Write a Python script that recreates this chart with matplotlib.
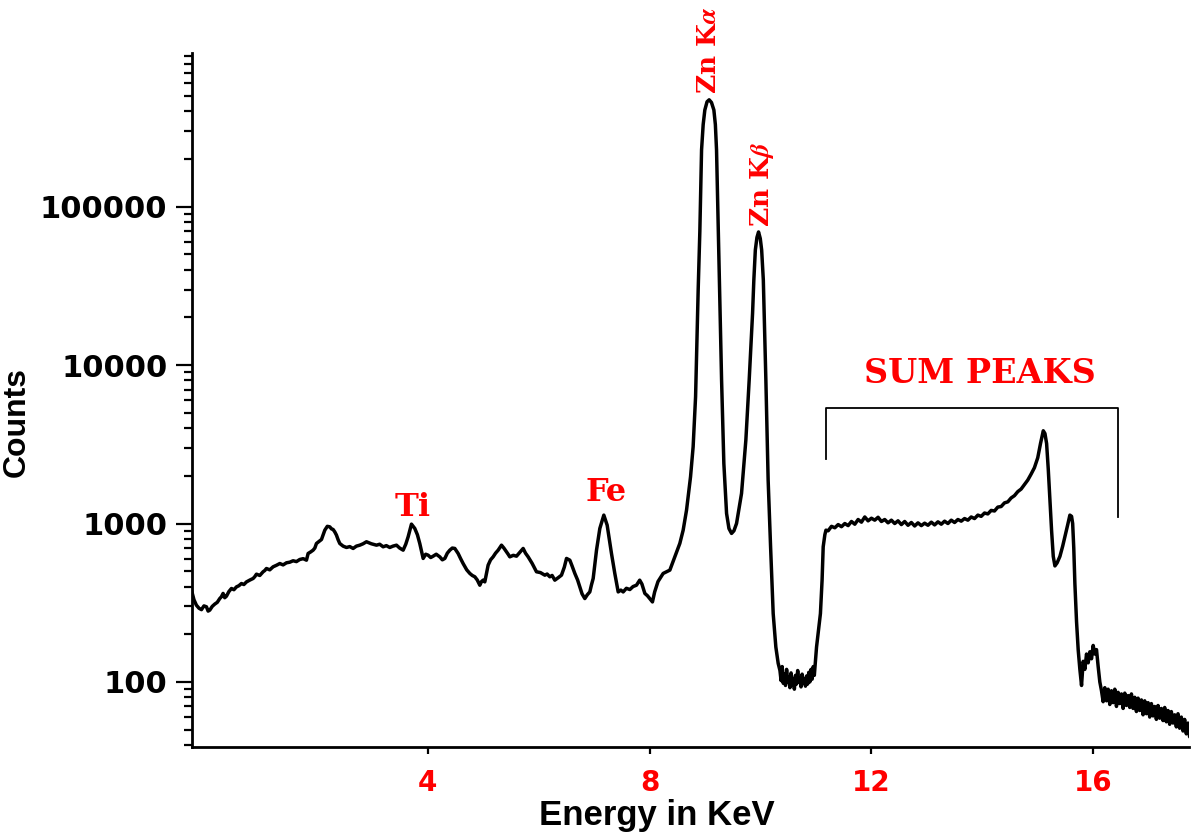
import numpy as np
import matplotlib.pyplot as plt
from matplotlib.ticker import FixedLocator, LogLocator, NullFormatter, NullLocator, FuncFormatter

plt.rcParams['font.family'] = ['DejaVu Sans']
plt.rcParams['font.weight'] = 'bold'
plt.rcParams['mathtext.fontset'] = 'stix'

# spectrum (energy in keV, counts)
energy_low = [-0.266, -0.22, -0.176, -0.13, -0.085, -0.04, 0.005, 0.035, 0.065, 0.11,
              0.155, 0.20, 0.245, 0.275, 0.305, 0.335, 0.366, 0.41, 0.456, 0.50,
              0.546, 0.59, 0.636, 0.68, 0.727, 0.79, 0.847, 0.877, 0.907, 0.967,
              1.027, 1.057, 1.087, 1.147, 1.207, 1.268, 1.328, 1.388, 1.448, 1.508,
              1.568, 1.628, 1.689, 1.75, 1.809, 1.839, 1.88, 1.929, 1.96, 1.989,
              2.035, 2.080, 2.110, 2.140, 2.185, 2.230, 2.26, 2.290, 2.32, 2.350,
              2.38, 2.410, 2.47, 2.531, 2.59, 2.651, 2.71, 2.771, 2.83, 2.891,
              2.98, 3.072, 3.13, 3.192, 3.25, 3.312, 3.37, 3.433, 3.49, 3.553,
              3.60, 3.643, 3.703, 3.763, 3.81, 3.853, 3.914, 3.96, 4.004, 4.05,
              4.094, 4.15, 4.214, 4.26, 4.305, 4.35, 4.395, 4.44, 4.485, 4.545,
              4.59, 4.635, 4.70, 4.756, 4.80, 4.846, 4.89, 4.936, 4.966, 4.996,
              5.026, 5.086, 5.13, 5.176, 5.22, 5.267, 5.327, 5.37, 5.417, 5.447,
              5.477, 5.54, 5.598, 5.66, 5.718, 5.76, 5.808, 5.88, 5.958, 6.03,
              6.109, 6.15, 6.199, 6.24, 6.289, 6.35, 6.409, 6.46, 6.500, 6.560,
              6.60, 6.650, 6.70, 6.740, 6.78, 6.830, 6.875, 6.920, 6.95, 6.981,
              7.041, 7.101, 7.173, 7.233, 7.27, 7.311, 7.371, 7.432, 7.48, 7.522,
              7.58, 7.642, 7.70, 7.762, 7.82, 7.86, 7.913, 7.96, 8.05]
counts_low = [380, 330, 305, 292, 286, 302, 298, 280, 284, 300,
              310, 318, 336, 345, 362, 340, 348, 372, 389, 382,
              398, 405, 418, 412, 428, 440, 450, 462, 479, 470,
              496, 505, 520, 510, 533, 545, 559, 548, 565, 570,
              582, 575, 593, 600, 587, 647, 660, 679, 700, 748,
              770, 793, 850, 908, 960, 953, 925, 917, 885, 845,
              790, 748, 720, 706, 715, 696, 720, 730, 745, 767,
              745, 730, 740, 713, 725, 706, 720, 730, 700, 679,
              740, 824, 991, 931, 850, 748, 602, 640, 631, 610,
              622, 640, 616, 590, 602, 650, 679, 700, 696, 647,
              600, 559, 510, 484, 470, 461, 440, 408, 430, 439,
              428, 546, 590, 616, 650, 679, 730, 700, 663, 640,
              616, 630, 622, 660, 696, 650, 616, 560, 496, 490,
              472, 480, 461, 470, 439, 455, 472, 530, 602, 587,
              540, 484, 440, 398, 360, 336, 355, 370, 410, 450,
              679, 931, 1130, 977, 800, 647, 484, 370, 380, 370,
              390, 383, 400, 408, 439, 415, 362, 350, 320]

energy_zn = [8.09, 8.15, 8.243, 8.364, 8.454, 8.544, 8.604, 8.665, 8.737, 8.784,
             8.828, 8.85, 8.875, 8.905, 8.936, 8.965, 8.995, 9.035, 9.073, 9.115,
             9.158, 9.185, 9.206, 9.235, 9.26, 9.297, 9.338, 9.387, 9.43, 9.477,
             9.52, 9.567, 9.657, 9.735, 9.795, 9.856, 9.879, 9.906, 9.935, 9.964,
             9.995, 10.02, 10.05, 10.096, 10.137, 10.181, 10.228, 10.276, 10.318]
counts_zn = [370, 430, 484, 508, 616, 749, 908, 1216, 1972, 3052,
             6313, 13000, 30000, 70000, 228600, 330000, 408000, 460000, 473000, 455000,
             408000, 330000, 228600, 80000, 34500, 8050, 2398, 1158, 930, 866,
             900, 1001, 1549, 3365, 8050, 21240, 34490, 53300, 64000, 69300,
             63000, 53300, 34490, 8050, 1880, 713, 270, 166, 131]

energy_gap = [10.35, 10.37, 10.39, 10.41, 10.43, 10.45, 10.47, 10.49, 10.51, 10.53,
              10.55, 10.57, 10.59, 10.61, 10.63, 10.65, 10.67, 10.69, 10.71, 10.73,
              10.75, 10.77, 10.79, 10.81, 10.83, 10.85, 10.87, 10.89, 10.91, 10.93,
              10.95, 10.97, 10.99]
counts_gap = [118, 102, 125, 98, 112, 95, 120, 100, 108, 92,
              114, 96, 105, 90, 110, 97, 118, 100, 106, 93,
              112, 98, 104, 94, 109, 97, 115, 100, 120, 104,
              125, 110, 135]

energy_sum = [11.01, 11.08, 11.11, 11.13, 11.16, 11.18, 11.22, 11.28, 11.34, 11.40,
              11.46, 11.52, 11.58, 11.64, 11.70, 11.76, 11.82, 11.88, 11.94, 12.00,
              12.06, 12.12, 12.18, 12.24, 12.30, 12.36, 12.42, 12.48, 12.54, 12.60,
              12.66, 12.72, 12.78, 12.84, 12.90, 12.96, 13.02, 13.08, 13.14, 13.20,
              13.26, 13.32, 13.38, 13.44, 13.50, 13.56, 13.62, 13.68, 13.74, 13.80,
              13.86, 13.92, 13.98, 14.04, 14.10, 14.16, 14.22, 14.28, 14.34, 14.40,
              14.46, 14.52, 14.58, 14.64, 14.70, 14.76, 14.82, 14.88, 14.94, 15.00,
              15.05, 15.10, 15.13, 15.16, 15.19, 15.22, 15.25, 15.28, 15.31, 15.35,
              15.40, 15.45, 15.49, 15.54, 15.58, 15.61, 15.63, 15.65, 15.67, 15.70,
              15.73, 15.76, 15.79, 15.82, 15.85, 15.88, 15.91, 15.94, 15.97, 16.00,
              16.03, 16.06, 16.09, 16.12, 16.15]
counts_sum = [166, 270, 439, 713, 850, 908, 900, 960, 940, 985,
              955, 1000, 970, 1030, 990, 1060, 1020, 1100, 1040, 1080,
              1050, 1095, 1030, 1060, 1010, 1050, 1000, 1040, 985, 1030,
              975, 1015, 965, 1010, 970, 1005, 975, 1020, 980, 1025,
              990, 1035, 1000, 1050, 1015, 1060, 1035, 1075, 1050, 1100,
              1075, 1130, 1110, 1165, 1150, 1210, 1200, 1270, 1280, 1350,
              1370, 1450, 1500, 1590, 1650, 1760, 1880, 2050, 2250, 2600,
              3200, 3850, 3700, 3200, 2200, 1400, 900, 620, 540, 565,
              620, 720, 824, 980, 1130, 1110, 1000, 700, 418, 240,
              159, 120, 95, 135, 120, 150, 132, 155, 140, 170,
              150, 160, 125, 100, 88]

energy_tail = [16.18, 16.21, 16.24, 16.27, 16.30, 16.33, 16.36, 16.39, 16.42, 16.45,
               16.48, 16.51, 16.54, 16.57, 16.60, 16.63, 16.66, 16.69, 16.72, 16.75,
               16.78, 16.81, 16.84, 16.87, 16.90, 16.93, 16.96, 16.99, 17.02, 17.05,
               17.08, 17.11, 17.14, 17.17, 17.20, 17.23, 17.26, 17.29, 17.32, 17.35,
               17.38, 17.41, 17.44, 17.47, 17.50, 17.53, 17.56, 17.59, 17.62, 17.65,
               17.68, 17.71, 17.74, 17.77]
counts_tail = [75, 92, 76, 90, 72, 88, 74, 90, 70, 86,
               73, 84, 68, 85, 71, 82, 69, 84, 68, 80,
               65, 79, 66, 77, 62, 76, 63, 74, 60, 73,
               61, 70, 58, 71, 59, 68, 57, 69, 56, 66,
               54, 65, 55, 62, 52, 63, 51, 60, 49, 58,
               47, 55, 45, 52]

energy = np.concatenate([energy_low, energy_zn, energy_gap, energy_sum, energy_tail])
counts = np.concatenate([counts_low, counts_zn, counts_gap, counts_sum, counts_tail])

x_ticks = [4, 8, 12, 16]
y_ticks = [100, 1000, 10000, 100000]

# peak labels: (text, energy, counts)
peak_labels = [("Ti", 3.73, 1270), ("Fe", 7.21, 1580)]
zn_labels = [(r"Zn K$\alpha$", 9.07, 515000), (r"Zn K$\beta$", 10.02, 74800)]
bracket_x = [11.18, 16.45]
bracket_top = 5400
bracket_bottoms = [2540, 1100]

fig = plt.figure(figsize=(12, 8.33), dpi=100)
ax = fig.add_axes([0.1598, 0.1036, 0.8311, 0.8324])

ax.plot(energy, counts, color='black', lw=2.5)
ax.set_yscale('log')
ax.set_xlim(-0.26, 17.73)
ax.set_ylim(39, 9.3e5)

for s in ['top', 'right']:
    ax.spines[s].set_visible(False)
for s in ['left', 'bottom']:
    ax.spines[s].set_linewidth(2)

ax.set_xticks(x_ticks)
ax.xaxis.set_minor_locator(NullLocator())
ax.yaxis.set_major_locator(FixedLocator(y_ticks))
ax.yaxis.set_major_formatter(FuncFormatter(lambda v, p: f"{int(round(v))}"))
ax.yaxis.set_minor_locator(LogLocator(base=10, subs=range(2, 10)))
ax.yaxis.set_minor_formatter(NullFormatter())

ax.tick_params(axis='y', which='major', direction='out', length=11.5, width=1.6, pad=6, labelsize=22)
ax.tick_params(axis='y', which='minor', direction='out', length=5.5, width=1.6)
ax.tick_params(axis='x', which='major', direction='out', length=5, width=1.6, pad=11,
               labelsize=20, labelcolor='red')

ax.set_xlabel("Energy in KeV", family='Liberation Sans', fontsize=25, fontweight='bold')
ax.xaxis.set_label_coords(0.4666, -0.075)
ax.set_ylabel("Counts", family='Liberation Sans', fontsize=23, fontweight='bold')
ax.yaxis.set_label_coords(-0.16, 0.468)

for txt, e, c in peak_labels:
    ax.text(e, c, txt, color='red', family='DejaVu Serif', fontweight='heavy',
            fontsize=23, ha='center', va='center')
for txt, e, c in zn_labels:
    ax.text(e, c, txt, color='red', family='DejaVu Serif', fontweight='heavy',
            fontsize=19, ha='center', va='bottom', rotation=90, clip_on=False)

ax.text(13.96, 8900, "SUM PEAKS", color='red', family='DejaVu Serif', fontweight='heavy',
        fontsize=24, ha='center', va='center')
ax.plot([bracket_x[0], bracket_x[0], bracket_x[1], bracket_x[1]],
        [bracket_bottoms[0], bracket_top, bracket_top, bracket_bottoms[1]],
        color='black', lw=1.3)

fig.savefig("out.png", dpi=100)
